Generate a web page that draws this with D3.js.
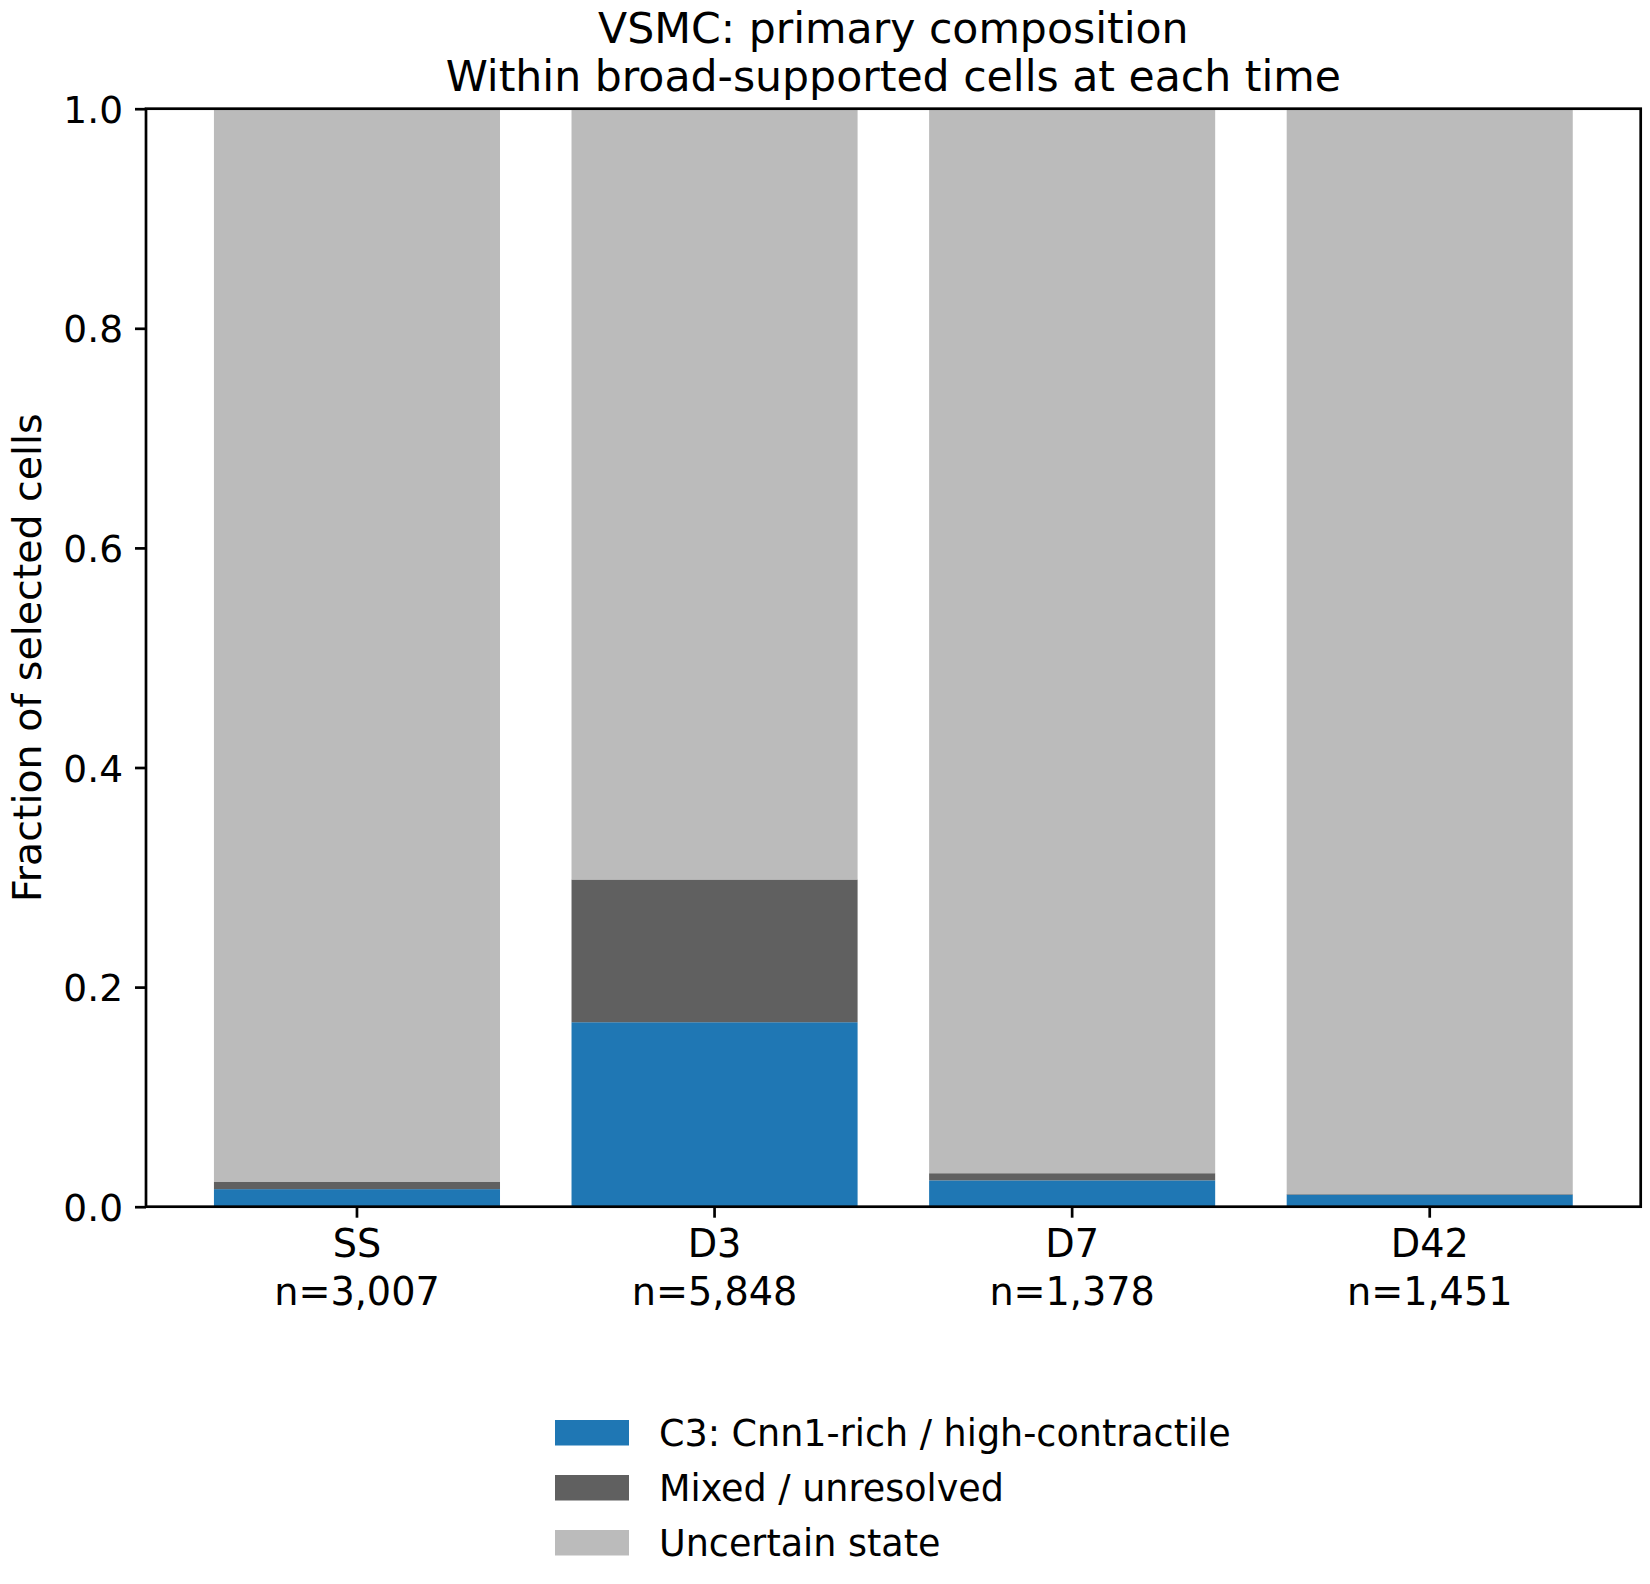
<!DOCTYPE html>
<html>
<head>
<meta charset="utf-8">
<script src="https://cdn.jsdelivr.net/npm/d3@7"></script>
<style>
  html, body { margin: 0; padding: 0; background: #fff; }
  svg { display: block; font-family: "DejaVu Sans", sans-serif; }
</style>
</head>
<body>
<svg id="chart" width="1650" height="1584"></svg>
<script>
// ---- data ----
const categories = ["SS", "D3", "D7", "D42"];
const counts = ["3,007", "5,848", "1,378", "1,451"];
const seriesNames = ["C3: Cnn1-rich / high-contractile", "Mixed / unresolved", "Uncertain state"];
const c3Values = [0.016, 0.168, 0.024, 0.011];
const mixedValues = [0.0065, 0.130, 0.0065, 0.0005];
const uncertainValues = [0.9775, 0.702, 0.9695, 0.9885];
const yTicks = [0.0, 0.2, 0.4, 0.6, 0.8, 1.0];
const titleLines = ["VSMC: primary composition", "Within broad-supported cells at each time"];
const yLabel = "Fraction of selected cells";
const colors = ["#1f77b4", "#606060", "#bbbbbb"];

// ---- layout ----
const svg = d3.select("#chart");
const L = 146, R = 1640.7, T = 108.7, B = 1206.7;

const x = d3.scaleBand().domain(categories).range([L, R]).paddingInner(0.2).paddingOuter(0.19);
const y = d3.scaleLinear().domain([0, 1]).range([B, T]);

const rows = categories.map((c, i) => ({
  cat: c, c3: c3Values[i], mixed: mixedValues[i], uncertain: uncertainValues[i]
}));
const stack = d3.stack().keys(["c3", "mixed", "uncertain"])(rows);

svg.append("g").selectAll("g").data(stack).join("g")
  .attr("fill", (d, i) => colors[i])
  .selectAll("rect").data(d => d).join("rect")
  .attr("x", d => x(d.data.cat))
  .attr("width", x.bandwidth())
  .attr("y", d => y(Math.min(1, d[1])))
  .attr("height", d => y(d[0]) - y(Math.min(1, d[1])));

// axes
const fs = 37.5;
const yAxis = svg.append("g").attr("transform", `translate(${L},0)`)
  .call(d3.axisLeft(y).tickValues(yTicks).tickFormat(d3.format(".1f")).tickSize(11).tickPadding(12));
yAxis.select(".domain").remove();
yAxis.selectAll(".tick line").attr("stroke", "#000").attr("stroke-width", 2.7);
yAxis.selectAll(".tick text").attr("font-size", fs).attr("fill", "#000")
  .attr("font-family", "DejaVu Sans").attr("dy", "0.36em");

const xAxis = svg.append("g").attr("transform", `translate(0,${B})`)
  .call(d3.axisBottom(x).tickSize(11).tickPadding(12));
xAxis.select(".domain").remove();
xAxis.selectAll(".tick line").attr("stroke", "#000").attr("stroke-width", 2.7);
xAxis.selectAll(".tick text").remove();
xAxis.selectAll(".tick").each(function(d, i) {
  const t = d3.select(this).append("text")
    .attr("text-anchor", "middle").attr("font-size", 38.2).attr("fill", "#000")
    .attr("font-family", "DejaVu Sans");
  t.append("tspan").attr("x", 0).attr("y", 50).text(d);
  t.append("tspan").attr("x", 0).attr("y", 98).text("n=" + counts[i]);
});

// frame
svg.append("rect").attr("x", L).attr("y", T).attr("width", R - L).attr("height", B - T)
  .attr("fill", "none").attr("stroke", "#000").attr("stroke-width", 2.7);

// title
const cx = (L + R) / 2;
svg.append("text").attr("x", cx).attr("y", 43).attr("text-anchor", "middle")
  .attr("font-size", 42.6).text(titleLines[0]);
svg.append("text").attr("x", cx).attr("y", 91).attr("text-anchor", "middle")
  .attr("font-size", 42.6).text(titleLines[1]);

// y label
svg.append("text").attr("transform", `translate(41,${(T + B) / 2}) rotate(-90)`)
  .attr("text-anchor", "middle").attr("font-size", 39.5).text(yLabel);

// legend
const lg = svg.append("g").attr("transform", "translate(555,1420)");
seriesNames.forEach((name, i) => {
  lg.append("rect").attr("x", 0).attr("y", i * 55).attr("width", 74).attr("height", 25.5)
    .attr("fill", colors[i]);
  lg.append("text").attr("x", 104).attr("y", i * 55 + 12.75).attr("dy", "0.36em")
    .attr("font-size", 36.5).text(name);
});
</script>
</body>
</html>
